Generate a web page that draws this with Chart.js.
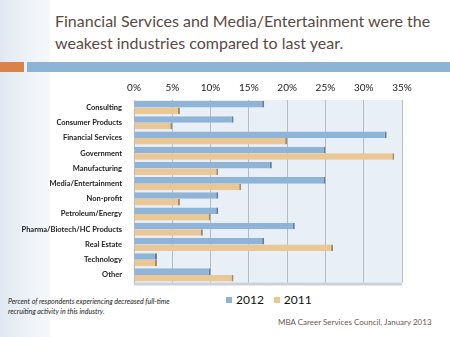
<!DOCTYPE html>
<html>
<head>
<meta charset="utf-8">
<script src="https://cdn.jsdelivr.net/npm/chart.js@4/dist/chart.umd.min.js"></script>
<style>
  body { margin: 0; width: 450px; height: 337px; background: #fff; position: relative; overflow: hidden; font-family: Lato, "Open Sans", sans-serif; }
  #side { position: absolute; left: 0; top: 0; width: 50px; height: 337px; background: linear-gradient(90deg, #dfe8f1 0%, #eef3f8 60%, #f6f9fb 100%); }
  #title { position: absolute; left: 55px; top: 10px; width: 390px; font-size: 16px; line-height: 22px; color: #5b4a44; }
  #barO { position: absolute; left: 0; top: 62px; width: 24px; height: 10px; background: #d9824a; }
  #barB { position: absolute; left: 27px; top: 62px; width: 423px; height: 10px; background: #8db4d4; }
  #wrap { position: absolute; left: 0; top: 80px; width: 420px; height: 211px; }
  #legend { position: absolute; left: 226px; top: 292px; font-size: 12px; color: #111; white-space: nowrap; }
  #legend span.box { display: inline-block; width: 6px; height: 6px; margin-right: 4px; vertical-align: 1px; }
  #legend span.item { margin-right: 10px; }
  #note { position: absolute; left: 8px; top: 296px; font-size: 7px; line-height: 10px; font-style: italic; color: #222; }
  #src { position: absolute; left: 278px; top: 317px; font-size: 8px; color: #6b5a52; }
</style>
</head>
<body>
<div id="side"></div>
<div id="title">Financial Services and Media/Entertainment were the weakest industries compared to last year.</div>
<div id="barO"></div>
<div id="barB"></div>
<div id="wrap"><canvas id="myChart"></canvas></div>
<div id="legend"></div>
<div id="note">Percent of respondents experiencing decreased full-time<br>recruiting activity in this industry.</div>
<div id="src">MBA Career Services Council, January 2013</div>
<script>
const industries = ["Consulting", "Consumer Products", "Financial Services", "Government", "Manufacturing",
  "Media/Entertainment", "Non-profit", "Petroleum/Energy", "Pharma/Biotech/HC Products", "Real Estate",
  "Technology", "Other"];
const values2012 = [17, 13, 33, 25, 18, 25, 11, 11, 21, 17, 3, 10];
const values2011 = [6, 5, 20, 34, 11, 14, 6, 10, 9, 26, 3, 13];
const xTicks = [0, 5, 10, 15, 20, 25, 30, 35];

// light panel behind the bars
const plotBg = {
  id: "plotBg",
  beforeDraw(chart) {
    const a = chart.chartArea;
    const c = chart.ctx;
    c.save();
    c.fillStyle = "#e9eff6";
    c.fillRect(a.left, a.top, a.right - a.left, a.bottom - a.top);
    c.fillStyle = "#c9d2db";
    c.fillRect(a.left, a.bottom, a.right - a.left, 3);
    c.restore();
  }
};

const chart = new Chart(document.getElementById("myChart").getContext("2d"), {
  type: "bar",
  data: {
    labels: industries,
    datasets: [
      { label: "2012", data: values2012, backgroundColor: "#8fb4d8", borderColor: "#5c7fa3",
        borderWidth: { right: 2, top: 0, bottom: 0, left: 0 }, borderSkipped: false },
      { label: "2011", data: values2011, backgroundColor: "#eac795", borderColor: "#a88a5f",
        borderWidth: { right: 2, top: 0, bottom: 0, left: 0 }, borderSkipped: false }
    ]
  },
  plugins: [plotBg],
  options: {
    indexAxis: "y",
    responsive: true,
    maintainAspectRatio: false,
    animation: false,
    layout: { padding: { left: 0, right: 18, top: 0, bottom: 4 } },
    datasets: { bar: { categoryPercentage: 0.86, barPercentage: 1.0 } },
    plugins: {
      legend: { display: false },
      tooltip: { enabled: false }
    },
    scales: {
      x: {
        position: "top",
        min: 0, max: 35,
        afterBuildTicks(scale) { scale.ticks = xTicks.map(v => ({ value: v })); },
        afterFit(scale) { scale.height = 20; },
        grid: { color: "#b3bcc6", drawTicks: false },
        border: { display: false },
        ticks: { padding: 6, color: "#222", font: { family: "Lato", size: 10 }, callback: v => v + "%" }
      },
      y: {
        afterFit(scale) { scale.width = 134; },
        grid: { display: false },
        border: { color: "#b3bcc6" },
        ticks: { color: "#222", padding: 4, font: { family: "Lato", size: 7.5, weight: "bold" } }
      }
    }
  }
});

// legend built from the chart's datasets
document.getElementById("legend").innerHTML = chart.data.datasets.map(ds =>
  '<span class="item"><span class="box" style="background:' + ds.backgroundColor + '"></span>' + ds.label + '</span>'
).join("");
</script>
</body>
</html>
